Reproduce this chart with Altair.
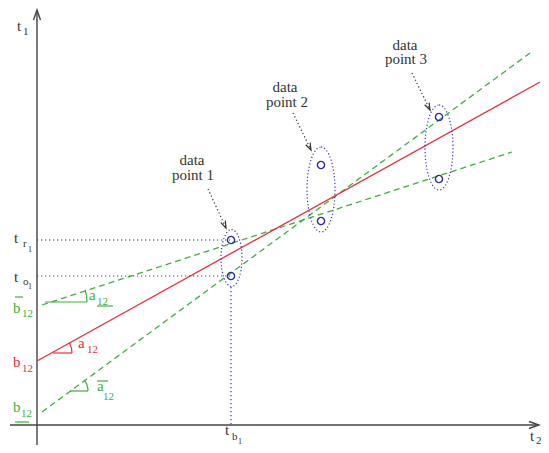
import math
import altair as alt
import pandas as pd

# ---- coordinate system: t2 (horizontal) and t1 (vertical), origin at the axes crossing ----
RED = "#e5303a"
GREEN = "#3fae3f"
BLUE = "#3434c0"
AXIS = "#444444"
BLACK = "#333333"

# axes: x1, y1, x2, y2
axis_segments = [(-27, 0, 502, 0), (0, -20, 0, 415)]
axis_heads = [(502, 0, 270), (0, 415, 180)]

# fitted lines
red_line = [(0, 64, 503, 343)]
green_lines = [(5, 120, 475, 273), (5, 13, 493, 372)]

# data points (t2, t1)
points_t2 = [194, 194, 284, 284, 402, 402]
points_t1 = [185, 149, 260, 204, 308, 246]

# ellipses around each data point: cx, cy, width, height
ellipses = [(194.5, 167, 21, 57), (284, 235.5, 28, 85), (402, 277.5, 28, 85)]

# dotted projection lines
proj_lines = [(0, 185, 194, 185), (0, 149, 194, 149), (194, 138, 194, 0)]

# pointer arrows from labels to ellipses
pointer_lines = [(171, 236, 189, 197), (256, 312, 274, 275), (375, 352, 393, 315)]

# solid short segments: x1, y1, x2, y2, colour
short_segments = [
    (16, 72, 35, 72, RED),
    (8, 123, 50, 123, GREEN),
    (33, 34, 51, 34, GREEN),
    (-22, 128, -14, 128, GREEN),   # overline b
    (60, 119, 76, 119, GREEN),     # underline a
    (60, 44, 71, 44, GREEN),       # overline a
    (-22, 3, -8, 3, GREEN),        # underline b
]

# angle arcs: centre x, centre y, radius, angle (deg), colour
arcs = [(14, 72, 21, 29, RED), (10, 123, 40, 18, GREEN), (33, 34, 18, 36, GREEN)]

# labels (left aligned, baseline): text, x, y, size, colour
labels = [
    ("t", -20, 394, 15, BLACK), ("1", -14, 390, 11, BLACK),
    ("t", -23, 182, 15, BLACK), ("r", -14, 178, 11, BLACK), ("1", -9, 173, 8, BLACK),
    ("t", -23, 143, 15, BLACK), ("o", -14, 140, 11, BLACK), ("1", -9, 136, 8, BLACK),
    ("b", -24, 112, 15, GREEN), ("12", -15, 108, 11, GREEN),
    ("b", -24, 58, 15, RED), ("12", -15, 53, 11, RED),
    ("a", 41, 77, 15, RED), ("12", 50, 72, 11, RED),
    ("a", 52, 125, 15, GREEN), ("12", 60, 120, 11, GREEN),
    ("a", 60, 34, 15, GREEN), ("12", 66, 25, 11, GREEN),
    ("b", -24, 13, 15, GREEN), ("12", -16, 8, 11, GREEN),
    ("t", 188, -10, 15, BLACK), ("b", 195, -15, 11, BLACK), ("1", 201, -19, 8, BLACK),
    ("t", 493, -16, 15, BLACK), ("2", 499, -19, 11, BLACK),
]

# centred annotations: text, x, y
notes = [
    ("data", 155, 260), ("point 1", 156, 245),
    ("data", 248, 333), ("point 2", 250, 318),
    ("data", 368, 375), ("point 3", 369, 361),
]

FONT = "Liberation Serif"

xs = alt.Scale(domain=[-29, 504], nice=False, zero=False)
ys = alt.Scale(domain=[-20, 417], nice=False, zero=False)


def seg_df(segs):
    return pd.DataFrame([dict(x=a, y=b, x2=c, y2=d) for a, b, c, d in segs])


def rule_layer(segs, color, width, dash=None):
    kw = dict(color=color, strokeWidth=width)
    if dash is not None:
        kw["strokeDash"] = dash
    return alt.Chart(seg_df(segs)).mark_rule(**kw).encode(
        x=alt.X("x:Q", scale=xs, axis=None),
        y=alt.Y("y:Q", scale=ys, axis=None),
        x2="x2:Q", y2="y2:Q",
    )


def head_angle(seg):
    x1, y1, x2, y2 = seg
    dx, dy = x2 - x1, -(y2 - y1)
    return (-math.degrees(math.atan2(dx, dy))) % 360


V_PATH = "M-0.35,-1L0,0L0.35,-1"

layers = []
layers.append(rule_layer(axis_segments, AXIS, 1.4))
layers.append(
    alt.Chart(pd.DataFrame([dict(x=a, y=b, ang=c) for a, b, c in axis_heads]))
    .mark_point(shape=V_PATH, size=400, filled=False, color=AXIS, strokeWidth=1.4, opacity=1)
    .encode(x=alt.X("x:Q", scale=xs, axis=None), y=alt.Y("y:Q", scale=ys, axis=None),
            angle=alt.Angle("ang:Q", scale=None))
)
layers.append(rule_layer(green_lines, GREEN, 1.3, [6, 4]))
layers.append(rule_layer(red_line, RED, 1.3))
layers.append(rule_layer(proj_lines, BLUE, 1.2, [1.2, 2.8]))
layers.append(rule_layer(pointer_lines, BLACK, 1.2, [1.2, 2.5]))
layers.append(
    alt.Chart(pd.DataFrame([dict(x=s[2], y=s[3], ang=head_angle(s)) for s in pointer_lines]))
    .mark_point(shape=V_PATH, size=196, filled=False, color=BLACK, strokeWidth=1.2, opacity=1)
    .encode(x=alt.X("x:Q", scale=xs, axis=None), y=alt.Y("y:Q", scale=ys, axis=None),
            angle=alt.Angle("ang:Q", scale=None))
)
for col in (RED, GREEN):
    segs = [s[:4] for s in short_segments if s[4] == col]
    layers.append(rule_layer(segs, col, 1.2))

# ellipses
K = 0.5523
for cx, cy, w, h in ellipses:
    a = w / h
    path = (f"M0,-1C{K*a:.4f},-1 {a:.4f},{-K} {a:.4f},0"
            f"C{a:.4f},{K} {K*a:.4f},1 0,1"
            f"C{-K*a:.4f},1 {-a:.4f},{K} {-a:.4f},0"
            f"C{-a:.4f},{-K} {-K*a:.4f},-1 0,-1Z")
    layers.append(
        alt.Chart(pd.DataFrame([dict(x=cx, y=cy)]))
        .mark_point(shape=path, size=h * h, filled=False, color=BLUE,
                    strokeWidth=1.2, strokeDash=[1.2, 2.2], opacity=1)
        .encode(x=alt.X("x:Q", scale=xs, axis=None), y=alt.Y("y:Q", scale=ys, axis=None))
    )

# arcs
for cx, cy, r, deg, col in arcs:
    t = math.radians(deg)
    k = 4 / 3 * math.tan(t / 4)
    c, s = math.cos(t), math.sin(t)
    path = (f"M1,0C1,{-k:.4f} {c + k*s:.4f},{-s + k*c:.4f} {c:.4f},{-s:.4f}")
    layers.append(
        alt.Chart(pd.DataFrame([dict(x=cx, y=cy)]))
        .mark_point(shape=path, size=4 * r * r, filled=False, color=col,
                    strokeWidth=1.2, opacity=1)
        .encode(x=alt.X("x:Q", scale=xs, axis=None), y=alt.Y("y:Q", scale=ys, axis=None))
    )

# data points
layers.append(
    alt.Chart(pd.DataFrame(dict(x=points_t2, y=points_t1)))
    .mark_point(shape="circle", size=52, filled=False, color="#2a2aa8", strokeWidth=1.4, opacity=1)
    .encode(x=alt.X("x:Q", scale=xs, axis=None), y=alt.Y("y:Q", scale=ys, axis=None))
)

# labels
layers.append(
    alt.Chart(pd.DataFrame([dict(t=a, x=b, y=c, s=d, c=e) for a, b, c, d, e in labels]))
    .mark_text(align="left", baseline="alphabetic", font=FONT)
    .encode(x=alt.X("x:Q", scale=xs, axis=None), y=alt.Y("y:Q", scale=ys, axis=None),
            text="t:N", size=alt.Size("s:Q", scale=None), color=alt.Color("c:N", scale=None))
)
layers.append(
    alt.Chart(pd.DataFrame([dict(t=a, x=b, y=c) for a, b, c in notes]))
    .mark_text(align="center", baseline="alphabetic", font=FONT, fontSize=15, color=BLACK)
    .encode(x=alt.X("x:Q", scale=xs, axis=None), y=alt.Y("y:Q", scale=ys, axis=None), text="t:N")
)

chart = (
    alt.layer(*layers)
    .properties(width=533, height=437, padding=0, autosize=alt.AutoSizeParams(type="none"))
    .configure_view(stroke=None)
)
chart.save("out.html", embed_options={"renderer": "svg", "actions": False})
